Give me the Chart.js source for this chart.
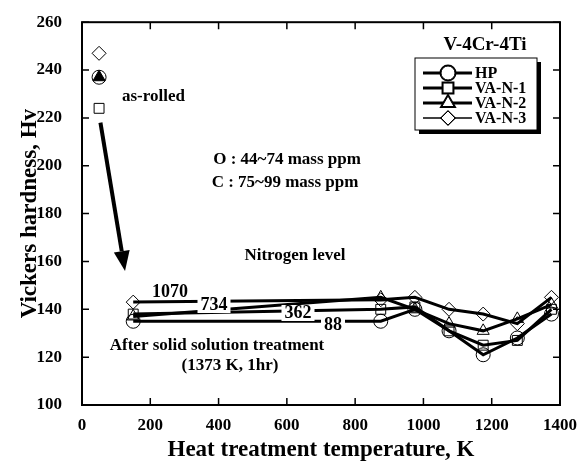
<!DOCTYPE html>
<html>
<head>
<meta charset="utf-8">
<script src="https://cdn.jsdelivr.net/npm/chart.js@4"></script>
<style>
  body { margin: 0; background: #fff; }
  #wrap { width: 579px; height: 464px; }
</style>
</head>
<body>
<div id="wrap"><canvas id="grafico" width="579" height="464"></canvas></div>
<script>
var temperature = [150, 875, 975, 1075, 1175, 1275, 1375];
var hp     = [135, 135, 140, 131, 121, 128, 138];
var vaN1   = [138, 140, 141, 131, 125, 127, 140];
var vaN2   = [137, 145, 140, 134, 131, 136, 142];
var vaN3   = [143, 144, 145, 140, 138, 134, 145];

var asRolledT = 50;
var asRolledHp = 237, asRolledN1 = 224, asRolledN2 = 237, asRolledN3 = 247;

var serie = ['HP', 'VA-N-1', 'VA-N-2', 'VA-N-3'];
var simboli = ['circle', 'rect', 'triangle', 'rectRot'];
var azoto = ['1070', '734', '362', '88'];

var FONT = '"Liberation Serif", "DejaVu Serif", serif';

function punti(valori) {
    return temperature.map(function (t, i) { return {x: t, y: valori[i]}; });
}

function serieLinea(label, valori, simbolo) {
    return {
        label: label,
        data: punti(valori),
        showLine: true,
        borderColor: '#000',
        borderWidth: 3,
        pointStyle: simbolo,
        pointRadius: 7,
        pointBorderWidth: 1,
        pointBorderColor: '#000',
        pointBackgroundColor: 'rgba(0,0,0,0)',
        tension: 0
    };
}

function serieRolled(valore, simbolo, fill) {
    return {
        data: [{x: asRolledT, y: valore}],
        showLine: false,
        pointStyle: simbolo,
        pointRadius: 7,
        pointBorderWidth: 1,
        pointBorderColor: '#000',
        pointBackgroundColor: fill
    };
}

// testo, cornice, tacche, legenda, freccia
var decorazioni = {
    id: 'decorazioni',
    afterDatasetsDraw: function (chart) {
        var ctx = chart.ctx;
        var a = chart.chartArea;
        var xs = chart.scales.x, ys = chart.scales.y;
        ctx.save();

        // cornice
        ctx.strokeStyle = '#000';
        ctx.lineWidth = 2;
        ctx.strokeRect(a.left, a.top, a.right - a.left, a.bottom - a.top);

        // tacche verso l'interno
        ctx.lineWidth = 1.5;
        ctx.beginPath();
        for (var t = 0; t <= 1400; t += 200) {
            var px = xs.getPixelForValue(t);
            ctx.moveTo(px, a.bottom); ctx.lineTo(px, a.bottom - 7);
            ctx.moveTo(px, a.top); ctx.lineTo(px, a.top + 7);
        }
        for (var v = 100; v <= 260; v += 20) {
            var py = ys.getPixelForValue(v);
            ctx.moveTo(a.left, py); ctx.lineTo(a.left + 7, py);
            ctx.moveTo(a.right, py); ctx.lineTo(a.right - 7, py);
        }
        ctx.stroke();

        // freccia
        var x0 = xs.getPixelForValue(54), y0 = ys.getPixelForValue(218);
        var x1 = xs.getPixelForValue(126), y1 = ys.getPixelForValue(156);
        var ang = Math.atan2(y1 - y0, x1 - x0);
        var bx = x1 - 20 * Math.cos(ang), by = y1 - 20 * Math.sin(ang);
        ctx.lineWidth = 4;
        ctx.beginPath();
        ctx.moveTo(x0, y0); ctx.lineTo(bx, by);
        ctx.stroke();
        ctx.fillStyle = '#000';
        ctx.beginPath();
        ctx.moveTo(x1, y1);
        ctx.lineTo(bx + 8 * Math.sin(ang), by - 8 * Math.cos(ang));
        ctx.lineTo(bx - 8 * Math.sin(ang), by + 8 * Math.cos(ang));
        ctx.closePath();
        ctx.fill();

        // testi
        ctx.fillStyle = '#000';
        ctx.textBaseline = 'middle';
        ctx.font = 'bold 17px ' + FONT;
        ctx.textAlign = 'left';
        ctx.fillText('as-rolled', 122, 97);
        ctx.textAlign = 'center';
        ctx.fillText('O : 44~74 mass ppm', 287, 160);
        ctx.fillText('C : 75~99 mass ppm', 285, 183);
        ctx.fillText('Nitrogen level', 295, 256);
        ctx.fillText('After solid solution treatment', 217, 346);
        ctx.fillText('(1373 K, 1hr)', 230, 366);
        ctx.font = 'bold 19px ' + FONT;
        ctx.fillText('V-4Cr-4Ti', 485, 45);

        // etichette azoto con sfondo bianco
        var posAzoto = [[170, 292], [214, 305], [298, 313], [333, 325]];
        ctx.font = 'bold 18px ' + FONT;
        azoto.forEach(function (lab, i) {
            var w = ctx.measureText(lab).width;
            ctx.fillStyle = '#fff';
            ctx.fillRect(posAzoto[i][0] - w / 2 - 3, posAzoto[i][1] - 8, w + 6, 16);
            ctx.fillStyle = '#000';
            ctx.fillText(lab, posAzoto[i][0], posAzoto[i][1]);
        });

        // legenda
        var lx = 415, ly = 58, lw = 122, lh = 72;
        ctx.fillStyle = '#000';
        ctx.fillRect(lx + 4, ly + 4, lw, lh);
        ctx.fillStyle = '#fff';
        ctx.fillRect(lx, ly, lw, lh);
        ctx.lineWidth = 1;
        ctx.strokeRect(lx, ly, lw, lh);
        ctx.textAlign = 'left';
        ctx.font = 'bold 16px ' + FONT;
        serie.forEach(function (nome, i) {
            var ry = 73 + i * 15;
            ctx.strokeStyle = '#000';
            ctx.lineWidth = i === 3 ? 1.5 : 3;
            ctx.beginPath();
            ctx.moveTo(423, ry); ctx.lineTo(472, ry);
            ctx.stroke();
            ctx.fillStyle = '#fff';
            Chart.helpers.drawPoint(ctx, {pointStyle: simboli[i], radius: 7, borderWidth: 1}, 448, ry);
            ctx.lineWidth = 1;
            ctx.fill();
            ctx.stroke();
            ctx.fillStyle = '#000';
            ctx.fillText(nome, 475, ry + 1);
        });

        ctx.restore();
    }
};

var ctx = document.getElementById('grafico');
var grafico = new Chart(ctx, {
    type: 'scatter',
    data: {
        // i primi dataset vengono disegnati sopra
        datasets: [
            serieLinea('HP', hp, 'circle'),
            serieLinea('VA-N-1', vaN1, 'rect'),
            serieLinea('VA-N-2', vaN2, 'triangle'),
            serieLinea('VA-N-3', vaN3, 'rectRot'),
            serieRolled(asRolledN2, 'triangle', '#000'),
            serieRolled(asRolledHp, 'circle', '#fff'),
            serieRolled(asRolledN1, 'rect', 'rgba(0,0,0,0)'),
            serieRolled(asRolledN3, 'rectRot', 'rgba(0,0,0,0)')
        ]
    },
    options: {
        responsive: false,
        animation: false,
        layout: {padding: {top: 20, right: 19, left: 0, bottom: 0}},
        plugins: {legend: {display: false}, tooltip: {enabled: false}},
        scales: {
            x: {
                type: 'linear', min: 0, max: 1400,
                grid: {display: false},
                border: {display: false},
                ticks: {stepSize: 200, color: '#000', padding: 2, maxRotation: 0,
                        callback: function (v) { return String(v); },
                        font: {family: FONT, size: 17, weight: 'bold'}},
                title: {display: true, text: 'Heat treatment temperature, K', color: '#000',
                        padding: {top: 6, bottom: 0},
                        font: {family: FONT, size: 23, weight: 'bold'}},
                afterFit: function (s) { s.height = 59; }
            },
            y: {
                type: 'linear', min: 100, max: 260,
                grid: {display: false},
                border: {display: false},
                ticks: {stepSize: 20, color: '#000', padding: 12,
                        font: {family: FONT, size: 17, weight: 'bold'}},
                title: {display: true, text: 'Vickers hardness, Hv', color: '#000',
                        padding: {top: 16, bottom: 0},
                        font: {family: FONT, size: 23, weight: 'bold'}},
                afterFit: function (s) { s.width = 82; }
            }
        }
    },
    plugins: [decorazioni]
});
</script>
</body>
</html>
